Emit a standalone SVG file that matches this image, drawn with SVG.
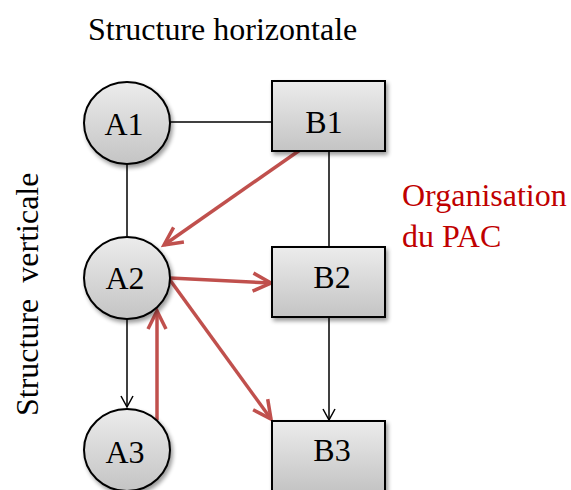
<svg xmlns="http://www.w3.org/2000/svg" width="571" height="490" viewBox="0 0 571 490">
<defs>
<linearGradient id="g" x1="0" y1="0" x2="0" y2="1">
<stop offset="0" stop-color="#ececec"/>
<stop offset="1" stop-color="#c4c4c4"/>
</linearGradient>
<filter id="sh" x="-20%" y="-20%" width="150%" height="150%">
<feGaussianBlur in="SourceAlpha" stdDeviation="2"/>
<feOffset dx="2" dy="3" result="b"/>
<feComponentTransfer><feFuncA type="linear" slope="0.4"/></feComponentTransfer>
<feMerge><feMergeNode/><feMergeNode in="SourceGraphic"/></feMerge>
</filter>
<marker id="ak" markerWidth="14" markerHeight="14" refX="12" refY="7" orient="auto" markerUnits="userSpaceOnUse">
<path d="M1,1 L12,7 L1,13" fill="none" stroke="#000" stroke-width="1.5"/>
</marker>
<marker id="ar" markerWidth="24" markerHeight="24" refX="20" refY="12" orient="auto" markerUnits="userSpaceOnUse">
<path d="M2,3 L20,12 L2,21" fill="none" stroke="#C0504D" stroke-width="3.5"/>
</marker>
</defs>
<style>
.n{fill:url(#g);stroke:#000;stroke-width:2;filter:url(#sh)}
.t{font-family:"Liberation Serif",serif;font-size:32px;fill:#000;text-anchor:middle}
.l{stroke:#000;stroke-width:1.5;fill:none}
.r{stroke:#C0504D;stroke-width:3.5;fill:none}
.h{font-family:"Liberation Serif",serif;font-size:32px}
</style>
<text class="h" x="88" y="40">Structure horizontale</text>
<text class="h" x="0" y="0" transform="translate(38,416) rotate(-90)" xml:space="preserve">Structure  verticale</text>
<text class="h" x="402" y="206" fill="#C00000">Organisation</text>
<text class="h" x="402" y="247" fill="#C00000">du PAC</text>
<g id="connectors">
<line class="l" x1="170" y1="122" x2="272" y2="122"/>
<line class="l" x1="127" y1="163" x2="127" y2="236"/>
<line class="l" x1="329" y1="151" x2="329" y2="247"/>
<line class="l" x1="127" y1="318" x2="127" y2="407" marker-end="url(#ak)"/>
<line class="l" x1="329" y1="317" x2="329" y2="420" marker-end="url(#ak)"/>
<line class="r" x1="300" y1="150" x2="164" y2="245" marker-end="url(#ar)"/>
<line class="r" x1="170" y1="278" x2="271" y2="283" marker-end="url(#ar)"/>
<line class="r" x1="170" y1="280" x2="271" y2="419" marker-end="url(#ar)"/>
<line class="r" x1="157" y1="420" x2="157" y2="311" marker-end="url(#ar)"/>
</g>
<g id="A1"><ellipse class="n" cx="127" cy="123" rx="43" ry="41"/><text class="t" x="124" y="135">A1</text></g>
<g id="A2"><ellipse class="n" cx="127" cy="278" rx="43" ry="41"/><text class="t" x="125" y="289">A2</text></g>
<g id="A3"><ellipse class="n" cx="127" cy="450" rx="43" ry="41"/><text class="t" x="125" y="463">A3</text></g>
<g id="B1"><rect class="n" x="272" y="81" width="113" height="70"/><text class="t" x="324" y="133">B1</text></g>
<g id="B2"><rect class="n" x="272" y="247" width="113" height="70"/><text class="t" x="332" y="288">B2</text></g>
<g id="B3"><rect class="n" x="272" y="421" width="113" height="70"/><text class="t" x="332" y="461">B3</text></g>
</svg>
